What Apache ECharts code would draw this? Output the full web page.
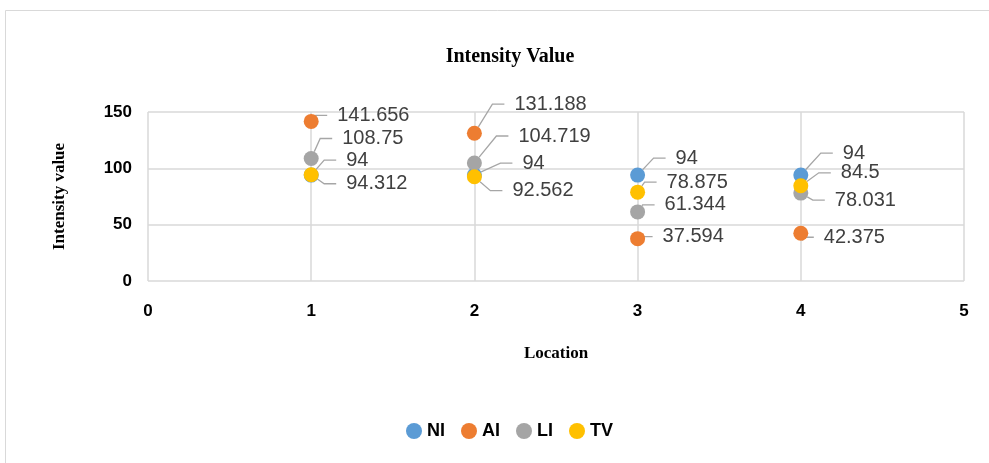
<!DOCTYPE html>
<html>
<head>
<meta charset="utf-8">
<script src="https://cdn.jsdelivr.net/npm/echarts@6/dist/echarts.min.js"></script>
<style>
  html, body { margin: 0; padding: 0; background: #fff; }
  #chart { width: 989px; height: 463px; }
</style>
</head>
<body>
<div id="chart"></div>
<script>
// Locations on the x axis
const locations = [1, 2, 3, 4];
// Intensity values per series at each location
const niValues = [94, 94, 94, 94];
const aiValues = [141.656, 131.188, 37.594, 42.375];
const liValues = [108.75, 104.719, 61.344, 78.031];
const tvValues = [94.312, 92.562, 78.875, 84.5];
const seriesNames = ['NI', 'AI', 'LI', 'TV'];
const xTicks = [0, 1, 2, 3, 4, 5];
const yTicks = [0, 50, 100, 150];

const colors = ['#5B9BD5', '#ED7D31', '#A5A5A5', '#FFC000'];

// Offsets (dx, dy) of each label's left edge from its marker centre, per series and location
const labelOffsets = [
  [[25, -15], [38, -12], [28, -17], [32, -22]],
  [[16, -6], [30, -29], [15, -2], [13, 4]],
  [[21, -20], [34, -27], [17, -7], [24, 7]],
  [[25, 9], [28, 14], [19, -10], [30, -13]]
];

const allValues = [niValues, aiValues, liValues, tvValues];

const chart = echarts.init(document.getElementById('chart'));

const series = allValues.map((vals, si) => ({
  name: seriesNames[si],
  type: 'scatter',
  symbolSize: 15,
  itemStyle: { color: colors[si], opacity: 1 },
  data: locations.map((x, i) => [x, vals[i]]),
  z: 2 + si,
  label: {
    show: true,
    // leading spacer keeps a small gap between the leader line and the number
    formatter: p => '{s|}{v|' + p.value[1] + '}',
    rich: {
      s: { width: 10 },
      v: {
        color: '#404040',
        fontFamily: 'Liberation Sans, Arial, sans-serif',
        fontSize: 20
      }
    }
  },
  labelLine: {
    show: true,
    length2: 12,
    lineStyle: { color: '#A6A6A6', width: 1.3 }
  },
  labelLayout: function (params) {
    const r = params.rect;
    const off = labelOffsets[si][params.dataIndex];
    return {
      x: r.x + r.width / 2 + off[0],
      y: r.y + r.height / 2 + off[1],
      align: 'left',
      verticalAlign: 'middle'
    };
  },
  emphasis: { disabled: true }
}));

chart.setOption({
  animation: false,
  backgroundColor: '#fff',
  title: {
    text: 'Intensity Value',
    left: 505,
    top: 42,
    textAlign: 'center',
    textStyle: {
      fontFamily: 'Liberation Serif, Times New Roman, serif',
      fontWeight: 'bold',
      fontSize: 20,
      color: '#000'
    }
  },
  graphic: [{
    type: 'rect',
    shape: { x: 5.5, y: 10.5, width: 1000, height: 470 },
    style: { fill: 'none', stroke: '#D9D9D9', lineWidth: 1 },
    silent: true
  }],
  legend: {
    data: seriesNames,
    top: 417,
    left: 401,
    icon: 'circle',
    itemWidth: 16,
    itemHeight: 16,
    itemGap: 16,
    textStyle: {
      fontFamily: 'Liberation Sans, Arial, sans-serif',
      fontWeight: 'bold',
      fontSize: 18,
      color: '#000'
    }
  },
  grid: { left: 148, right: 25, top: 112, bottom: 182 },
  xAxis: {
    type: 'value',
    min: xTicks[0],
    max: xTicks[xTicks.length - 1],
    interval: 1,
    name: 'Location',
    nameLocation: 'middle',
    nameGap: 64,
    nameTextStyle: {
      fontFamily: 'Liberation Serif, Times New Roman, serif',
      fontWeight: 'bold',
      fontSize: 17,
      color: '#000'
    },
    axisLine: { show: false },
    axisTick: { show: false },
    axisLabel: {
      margin: 22,
      fontFamily: 'Liberation Sans, Arial, sans-serif',
      fontWeight: 'bold',
      fontSize: 17,
      color: '#000'
    },
    splitLine: { show: true, lineStyle: { color: '#D9D9D9', width: 1.5 } }
  },
  yAxis: {
    type: 'value',
    min: yTicks[0],
    max: yTicks[yTicks.length - 1],
    interval: 50,
    name: 'Intensity value',
    nameLocation: 'middle',
    nameGap: 80,
    nameRotate: 90,
    nameTextStyle: {
      fontFamily: 'Liberation Serif, Times New Roman, serif',
      fontWeight: 'bold',
      fontSize: 17,
      color: '#000'
    },
    axisLine: { show: false },
    axisTick: { show: false },
    axisLabel: {
      margin: 16,
      fontFamily: 'Liberation Sans, Arial, sans-serif',
      fontWeight: 'bold',
      fontSize: 17,
      color: '#000'
    },
    splitLine: { show: true, lineStyle: { color: '#D9D9D9', width: 1.5 } }
  },
  series: series
});
</script>
</body>
</html>
